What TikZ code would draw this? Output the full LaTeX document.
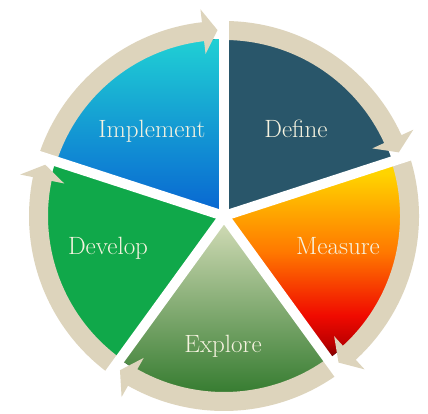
\documentclass[tikz,border=0pt]{standalone}
\definecolor{ringc}{RGB}{221,212,188}
\definecolor{definec}{RGB}{41,86,106}
\definecolor{developc}{RGB}{16,168,74}
\definecolor{txtc}{RGB}{246,243,224}
\definecolor{implTop}{RGB}{32,208,212}
\definecolor{implMid}{RGB}{20,160,226}
\definecolor{implBot}{RGB}{8,100,210}
\definecolor{expTop}{RGB}{214,222,186}
\definecolor{expMid}{RGB}{128,172,92}
\definecolor{expBot}{RGB}{44,118,40}
\definecolor{mYel}{RGB}{255,212,0}
\definecolor{mAmb}{RGB}{255,170,0}
\definecolor{mOra}{RGB}{255,120,0}
\definecolor{mRed}{RGB}{240,10,0}
\definecolor{mDR}{RGB}{190,0,0}
\definecolor{mDark}{RGB}{115,0,0}
\pgfdeclareverticalshading{measureshade}{100bp}{color(0bp)=(mDark); color(25bp)=(mDark); color(29bp)=(mDR); color(36bp)=(mRed); color(52bp)=(mOra); color(63bp)=(mAmb); color(72bp)=(mYel); color(100bp)=(mYel)}
\newcommand{\arrowseg}[2]{%
  \pgfmathsetmacro{\hb}{#2+6.5}%
  \pgfmathsetmacro{\ht}{#2+2}%
  \fill[ringc] (#1:176) -- (#1:195) arc[start angle=#1,end angle=\hb,radius=195]
    -- (\hb:208) -- (\ht:186) -- (\hb:163) -- (\hb:176)
    arc[start angle=\hb,end angle=#1,radius=176] -- cycle;
}
\begin{document}
\begin{tikzpicture}[x=1pt,y=1pt,
  gapline/.style={draw=white,line width=10pt},
  lbl/.style={text=txtc,font=\fontsize{25}{30}\selectfont,anchor=base,inner sep=0pt}]
\useasboundingbox (0,0) rectangle (428,414);
\fill[white] (0,0) rectangle (428,414);
\begin{scope}[shift={(224,198)}]
\def\R{177}
% sectors
\fill[top color=implTop,middle color=implMid,bottom color=implBot]
  (0,0) -- (162:\R) arc[start angle=162,end angle=90,radius=\R] -- cycle;
\fill[definec]
  (0,0) -- (90:\R) arc[start angle=90,end angle=18,radius=\R] -- cycle;
\fill[shading=measureshade]
  (0,0) -- (18:\R) arc[start angle=18,end angle=-54,radius=\R] -- cycle;
\fill[top color=expTop,middle color=expMid,bottom color=expBot]
  (0,0) -- (-54:\R) arc[start angle=-54,end angle=-126,radius=\R] -- cycle;
\fill[developc]
  (0,0) -- (234:\R) arc[start angle=234,end angle=162,radius=\R] -- cycle;
% ring arrows
\arrowseg{162}{90}
\arrowseg{90}{18}
\arrowseg{18}{-54}
\arrowseg{-54}{-126}
\arrowseg{234}{162}
% gaps
\foreach \a in {90,18,-54,-126,162} \draw[gapline] (0,0) -- (\a:215);
\end{scope}
\node[lbl] (impl) at (152,276) {Implement};
\node[lbl] (def) at (296,276) {Define};
\node[lbl] (meas) at (338,159) {Measure};
\node[lbl] (dev) at (108,159) {Develop};
\node[lbl] (expl) at (223,61) {Explore};
\end{tikzpicture}
\end{document}
